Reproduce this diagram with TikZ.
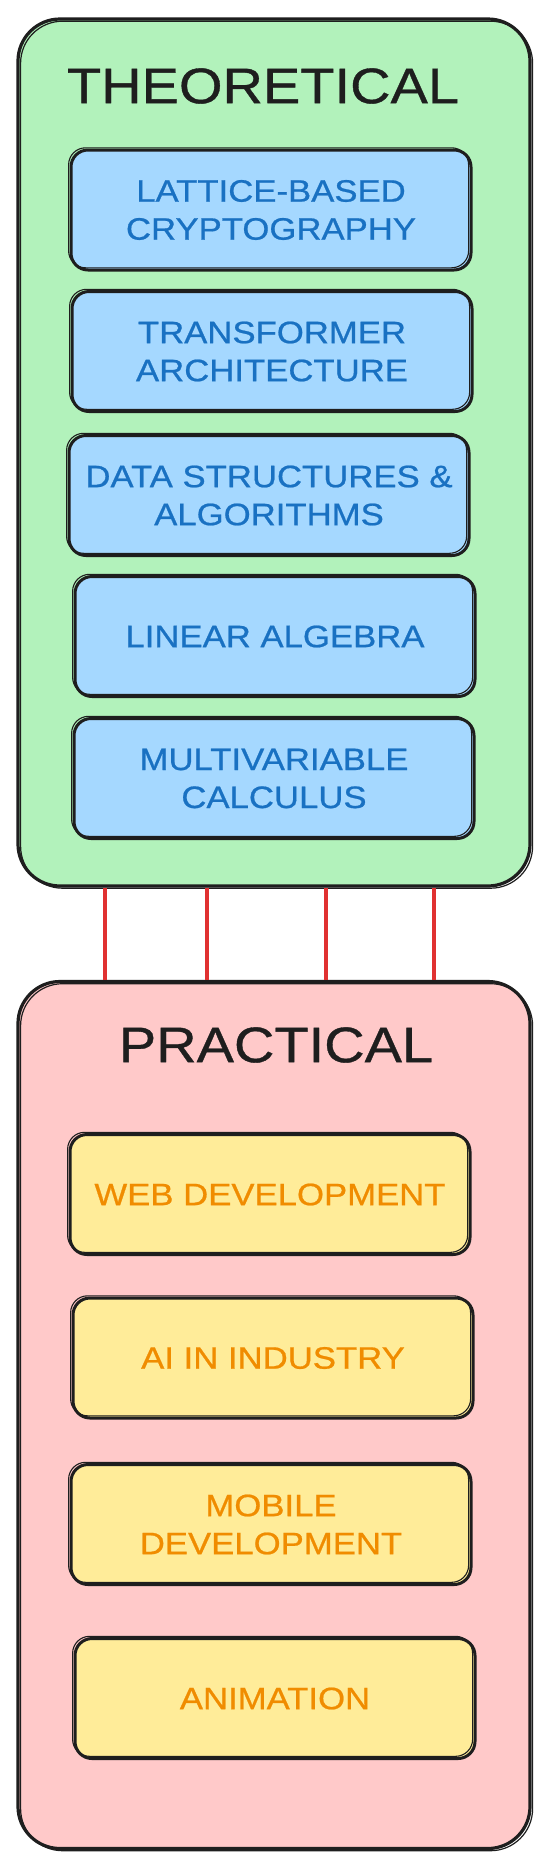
\documentclass[tikz,border=0pt]{standalone}
\usepackage{fontspec}
\setmainfont{Liberation Sans}
\newfontfamily\hand[FakeStretch=1.12,FakeBold=0.7]{Liberation Sans}
\usetikzlibrary{calc}
\definecolor{ink}{HTML}{1E1E1E}
\definecolor{gfill}{HTML}{B2F2BB}
\definecolor{bfill}{HTML}{A5D8FF}
\definecolor{btext}{HTML}{1971C2}
\definecolor{pfill}{HTML}{FFC9C9}
\definecolor{yfill}{HTML}{FFEC99}
\definecolor{otext}{HTML}{F08C00}
\definecolor{rline}{HTML}{E03131}
\begin{document}
\begin{tikzpicture}[x=1pt,y=-1pt,
  groupbox/.style={draw=ink, line width=3.2pt, rounded corners=42pt,
    minimum width=512pt, minimum height=867pt, inner sep=0pt,
    postaction={draw=ink, line width=1.2pt, transform canvas={shift={(2.6pt,-2.2pt)}}}},
  itembox/.style={draw=ink, line width=3pt, rounded corners=17pt,
    minimum width=400pt, minimum height=120pt, inner sep=0pt, align=center,
    font=\hand\fontsize{31}{38}\selectfont,
    postaction={draw=ink, line width=1.1pt, transform canvas={shift={(-2.4pt,2.2pt)}}}},
  blueitem/.style={itembox, fill=bfill, text=btext},
  yellowitem/.style={itembox, fill=yfill, text=otext},
  grouptitle/.style={text=ink, font=\hand\fontsize{50}{60}\selectfont, inner sep=0pt},
  link/.style={draw=rline, line width=3.8pt}]
\fill[white] (0,0) rectangle (548,1869);
\useasboundingbox (0,0) rectangle (548,1869);

% groups
\node[groupbox, fill=gfill] (green) at (274,452.5) {};
\node[groupbox, fill=pfill] (pink) at (274,1415) {};
\node[grouptitle] (ttheo) at (263,86) {THEORETICAL};
\node[grouptitle] (tprac) at (276,1045) {PRACTICAL};

% theoretical items
\node[blueitem] (b1) at (271,210) {LATTICE-BASED\\CRYPTOGRAPHY};
\node[blueitem] (b2) at (272,351.5) {TRANSFORMER\\ARCHITECTURE};
\node[blueitem] (b3) at (269,495.5) {DATA STRUCTURES \&\\ALGORITHMS};
\node[blueitem] (b4) at (275,636.5) {LINEAR ALGEBRA};
\node[blueitem] (b5) at (274,778.5) {MULTIVARIABLE\\CALCULUS};

% practical items
\node[yellowitem] (y1) at (270,1194.5) {WEB DEVELOPMENT};
\node[yellowitem] (y2) at (273,1358) {AI IN INDUSTRY};
\node[yellowitem] (y3) at (271,1524.5) {MOBILE\\DEVELOPMENT};
\node[yellowitem] (y4) at (275,1698.5) {ANIMATION};

% connectors
\coordinate (c1) at (105,0);
\coordinate (c2) at (207,0);
\coordinate (c3) at (326,0);
\coordinate (c4) at (434,0);
\draw[link] (green.south -| c1) -- (pink.north -| c1);
\draw[link] (green.south -| c2) -- (pink.north -| c2);
\draw[link] (green.south -| c3) -- (pink.north -| c3);
\draw[link] (green.south -| c4) -- (pink.north -| c4);
\end{tikzpicture}
\end{document}
